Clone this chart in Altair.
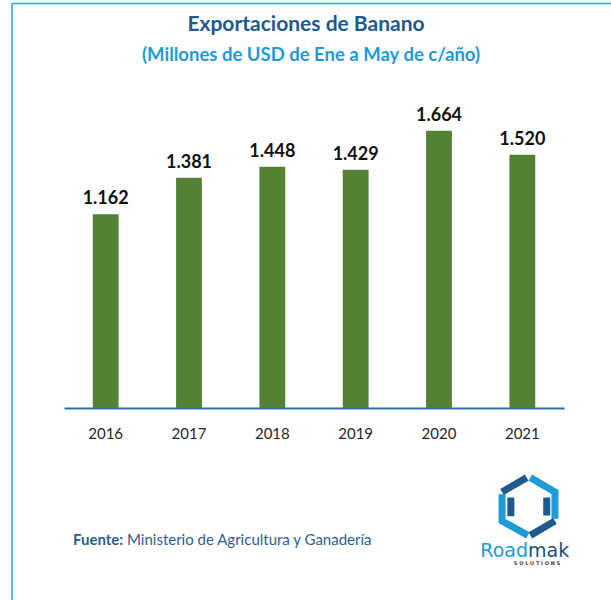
import altair as alt
import pandas as pd

# ---- data ----
years = ["2016", "2017", "2018", "2019", "2020", "2021"]
values = [1.162, 1.381, 1.448, 1.429, 1.664, 1.520]

title_text = "Exportaciones de Banano"
subtitle_text = "(Millones de USD de Ene a May de c/año)"
source_label = "Fuente:"
source_text = "Ministerio de Agricultura y Ganadería"
logo_a = "Road"
logo_b = "mak"
logo_sub = "S   O   L   U   T   I   O   N   S"

df = pd.DataFrame({"year": years, "value": values})

FONT = "Lato"
W, H = 500, 400

x_enc = alt.X(
    "year:N",
    sort=years,
    title=None,
    scale=alt.Scale(paddingInner=0.69, paddingOuter=0.345),
    axis=alt.Axis(
        labelAngle=0,
        ticks=False,
        tickSize=0,
        labelPadding=18,
        labelFont=FONT,
        labelFontSize=15,
        labelColor="#262626",
        domainColor="#2e6da4",
        domainWidth=2,
        grid=False,
    ),
)
y_enc = alt.Y("value:Q", scale=alt.Scale(domain=[0, 2.36]), axis=None)

bars = alt.Chart(df).mark_bar(color="#548235").encode(x=x_enc, y=y_enc)

labels = alt.Chart(df).mark_text(
    baseline="alphabetic", dy=-10, font=FONT, fontSize=18, fontWeight="bold", color="#111111"
).encode(x=alt.X("year:N", sort=years), y="value:Q", text=alt.Text("value:Q", format=".3f"))


def text_layer(txt, x, y, size, color, weight="normal", align="center", font=FONT):
    return alt.Chart(pd.DataFrame({"t": [txt]})).mark_text(
        font=font, fontSize=size, fontWeight=weight, color=color,
        align=align, baseline="alphabetic",
    ).encode(text="t:N", x=alt.value(x), y=alt.value(y))


one = pd.DataFrame({"t": [""]})

border_left = alt.Chart(one).mark_rule(color="#2ea3dd", strokeWidth=1.5).encode(
    x=alt.value(-52), y=alt.value(-4.5), y2=alt.value(600)
)
border_top = alt.Chart(one).mark_rule(color="#2ea3dd", strokeWidth=1.5).encode(
    x=alt.value(-52), x2=alt.value(560), y=alt.value(-4.5)
)

light_path = (
    "M -0.87 -0.40 L -0.87 0.475 L -0.02 0.95 "
    "M 0.06 -0.95 L 0.87 -0.475 L 0.87 0.40"
)
dark_path = (
    "M -0.87 -0.475 L -0.06 -0.95 "
    "M 0.87 0.475 L 0.06 0.95 "
    "M -0.58 -0.30 L -0.58 0.32 "
    "M 0.60 -0.30 L 0.60 0.30"
)

hex_light = alt.Chart(one).mark_point(
    shape=light_path, size=3700, stroke="#1e9ad6", strokeWidth=7, filled=False, opacity=1
).encode(x=alt.value(464.5), y=alt.value(498.5))
hex_dark = alt.Chart(one).mark_point(
    shape=dark_path, size=3700, stroke="#1f5a8c", strokeWidth=7, filled=False, opacity=1
).encode(x=alt.value(464.5), y=alt.value(498.5))

chart = alt.layer(
    border_left,
    border_top,
    bars,
    labels,
    text_layer(title_text, 242, 23, 21, "#1f5a8c", "bold"),
    text_layer(subtitle_text, 247, 53, 18.5, "#1f9ad6", "bold"),
    text_layer(source_label, 9, 537, 15, "#2a5d8a", "bold", "left"),
    text_layer(source_text, 63, 537, 15, "#2f6090", "normal", "left"),
    hex_light,
    hex_dark,
    text_layer(logo_a, 464, 549, 19, "#1e9ad6", "normal", "right", "DejaVu Sans"),
    text_layer(logo_b, 464, 549, 19, "#1f4e79", "normal", "left", "DejaVu Sans"),
    text_layer(logo_sub, 473, 557, 5, "#444444", "bold", "center", "DejaVu Sans"),
).properties(
    width=W,
    height=H,
    autosize=alt.AutoSizeParams(type="none"),
    padding={"left": 64, "top": 8, "right": 47, "bottom": 192},
).configure(background="white").configure_view(stroke=None)

chart.save("out.html", embed_options={"renderer": "svg", "actions": False})
